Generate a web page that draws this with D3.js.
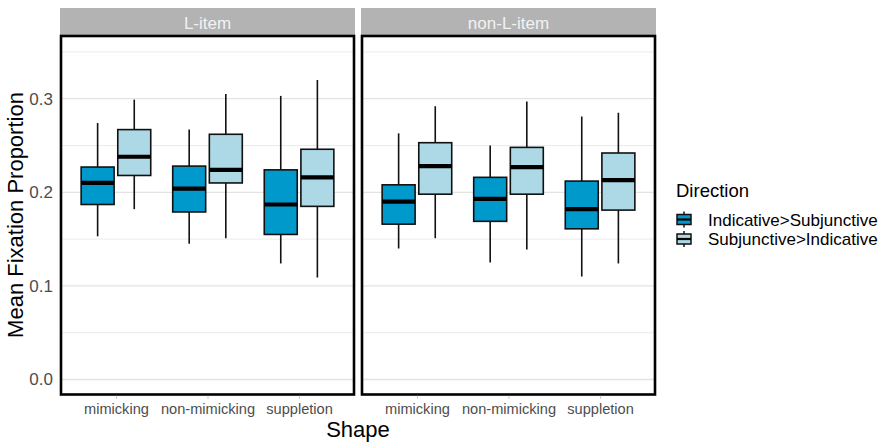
<!DOCTYPE html>
<html>
<head>
<meta charset="utf-8">
<script src="https://cdn.jsdelivr.net/npm/d3@7"></script>
<style>
  html, body { margin: 0; padding: 0; background: #ffffff; }
  svg { display: block; font-family: "Liberation Sans", Arial, sans-serif; }
</style>
</head>
<body>
<svg id="chart" width="889" height="443"></svg>
<script>
// Facets, categories and groups
const panels = ["L-item", "non-L-item"];
const shapes = ["mimicking", "non-mimicking", "suppletion"];
const directions = ["Indicative>Subjunctive", "Subjunctive>Indicative"];
const directionColors = ["#0099cc", "#add8e6"];

// Box statistics per shape: [lower whisker, Q1, median, Q3, upper whisker]
const lItemIndSubj = [
  [0.153, 0.187, 0.210, 0.227, 0.274],
  [0.145, 0.179, 0.204, 0.228, 0.267],
  [0.124, 0.155, 0.187, 0.224, 0.303]
];
const lItemSubjInd = [
  [0.182, 0.218, 0.238, 0.267, 0.299],
  [0.151, 0.210, 0.224, 0.262, 0.305],
  [0.109, 0.185, 0.216, 0.246, 0.320]
];
const nonLItemIndSubj = [
  [0.140, 0.166, 0.190, 0.208, 0.263],
  [0.125, 0.169, 0.193, 0.216, 0.250],
  [0.110, 0.161, 0.182, 0.212, 0.281]
];
const nonLItemSubjInd = [
  [0.151, 0.198, 0.228, 0.253, 0.292],
  [0.139, 0.198, 0.227, 0.248, 0.297],
  [0.124, 0.181, 0.213, 0.242, 0.285]
];
const panelSeries = [
  [lItemIndSubj, lItemSubjInd],
  [nonLItemIndSubj, nonLItemSubjInd]
];

const yTicks = [0.0, 0.1, 0.2, 0.3];
const yMinorTicks = [0.05, 0.15, 0.25, 0.35];

const svg = d3.select("#chart");

const panelTop = 36, panelBottom = 394.5;
const panelX = [[61, 354], [362, 655]];
const stripTop = 8;

const y = d3.scaleLinear().domain([-0.016, 0.367]).range([panelBottom, panelTop]);

panels.forEach((name, p) => {
  const [x0, x1] = panelX[p];
  const x = d3.scalePoint().domain(shapes).range([x0, x1]).padding(0.6);
  const step = x.step();
  const g = svg.append("g");

  // strip
  g.append("rect")
    .attr("x", x0 - 1).attr("y", stripTop)
    .attr("width", x1 - x0 + 2).attr("height", panelTop - stripTop - 1)
    .attr("fill", "#b3b3b3");
  g.append("text")
    .attr("x", (x0 + x1) / 2).attr("y", 29)
    .attr("text-anchor", "middle")
    .attr("font-size", 17)
    .attr("fill", "#f2f2f2")
    .text(name);

  // grid lines
  g.selectAll("line.minor").data(yMinorTicks).join("line")
    .attr("x1", x0).attr("x2", x1)
    .attr("y1", d => y(d)).attr("y2", d => y(d))
    .attr("stroke", "#ebebeb").attr("stroke-width", 1);
  g.selectAll("line.major").data(yTicks).join("line")
    .attr("x1", x0).attr("x2", x1)
    .attr("y1", d => y(d)).attr("y2", d => y(d))
    .attr("stroke", "#e3e3e3").attr("stroke-width", 1.3);

  // boxes
  directions.forEach((dir, k) => {
    const stats = panelSeries[p][k];
    const offset = (k === 0 ? -0.2 : 0.2) * step;
    const bw = 0.36 * step;
    const bg = g.append("g");
    stats.forEach((s, i) => {
      const cx = x(shapes[i]) + offset;
      bg.append("line")
        .attr("x1", cx).attr("x2", cx)
        .attr("y1", y(s[0])).attr("y2", y(s[4]))
        .attr("stroke", "#111").attr("stroke-width", 1.6);
      bg.append("rect")
        .attr("x", cx - bw / 2).attr("y", y(s[3]))
        .attr("width", bw).attr("height", y(s[1]) - y(s[3]))
        .attr("fill", directionColors[k])
        .attr("stroke", "#111").attr("stroke-width", 1.6);
      bg.append("line")
        .attr("x1", cx - bw / 2).attr("x2", cx + bw / 2)
        .attr("y1", y(s[2])).attr("y2", y(s[2]))
        .attr("stroke", "#000").attr("stroke-width", 4.2);
    });
  });

  // panel border
  g.append("rect")
    .attr("x", x0).attr("y", panelTop)
    .attr("width", x1 - x0).attr("height", panelBottom - panelTop)
    .attr("fill", "none").attr("stroke", "#000").attr("stroke-width", 2.6);

  // x axis
  const xa = g.append("g")
    .attr("transform", `translate(0,${panelBottom + 1.3})`)
    .call(d3.axisBottom(x).tickSize(3).tickPadding(5));
  xa.select(".domain").remove();
  xa.selectAll(".tick line").attr("stroke", "#c8c8c8");
  xa.selectAll(".tick text")
    .attr("font-size", 14.6).attr("fill", "#4d4d4d")
    .attr("font-family", "Liberation Sans, Arial, sans-serif");

  // y axis on the first panel only
  if (p === 0) {
    const ya = g.append("g")
      .attr("transform", `translate(${x0 - 7},0)`)
      .call(d3.axisLeft(y).tickValues(yTicks).tickFormat(d3.format(".1f")).tickSize(0).tickPadding(1));
    ya.select(".domain").remove();
    ya.selectAll(".tick text")
      .attr("font-size", 17).attr("fill", "#4d4d4d")
      .attr("font-family", "Liberation Sans, Arial, sans-serif");
  }
});

// axis titles
svg.append("text")
  .attr("transform", "translate(23,215) rotate(-90)")
  .attr("text-anchor", "middle")
  .attr("font-size", 22).attr("fill", "#000")
  .text("Mean Fixation Proportion");
svg.append("text")
  .attr("x", 358).attr("y", 437)
  .attr("text-anchor", "middle")
  .attr("font-size", 22).attr("fill", "#000")
  .text("Shape");

// legend
const legend = svg.append("g").attr("transform", "translate(676,0)");
legend.append("text")
  .attr("x", 0).attr("y", 197)
  .attr("font-size", 18.5).attr("fill", "#000")
  .text("Direction");
directions.forEach((dir, k) => {
  const cy = 219.5 + k * 19.5;
  const key = legend.append("g");
  key.append("line")
    .attr("x1", 8).attr("x2", 8).attr("y1", cy - 8).attr("y2", cy + 8)
    .attr("stroke", "#111").attr("stroke-width", 1.5);
  key.append("rect")
    .attr("x", 1).attr("y", cy - 5).attr("width", 14).attr("height", 10)
    .attr("fill", directionColors[k]).attr("stroke", "#111").attr("stroke-width", 1.5);
  key.append("line")
    .attr("x1", 1).attr("x2", 15).attr("y1", cy).attr("y2", cy)
    .attr("stroke", "#000").attr("stroke-width", 2.2);
  legend.append("text")
    .attr("x", 32).attr("y", cy + 6.2)
    .attr("font-size", 17).attr("fill", "#000")
    .text(dir);
});
</script>
</body>
</html>
